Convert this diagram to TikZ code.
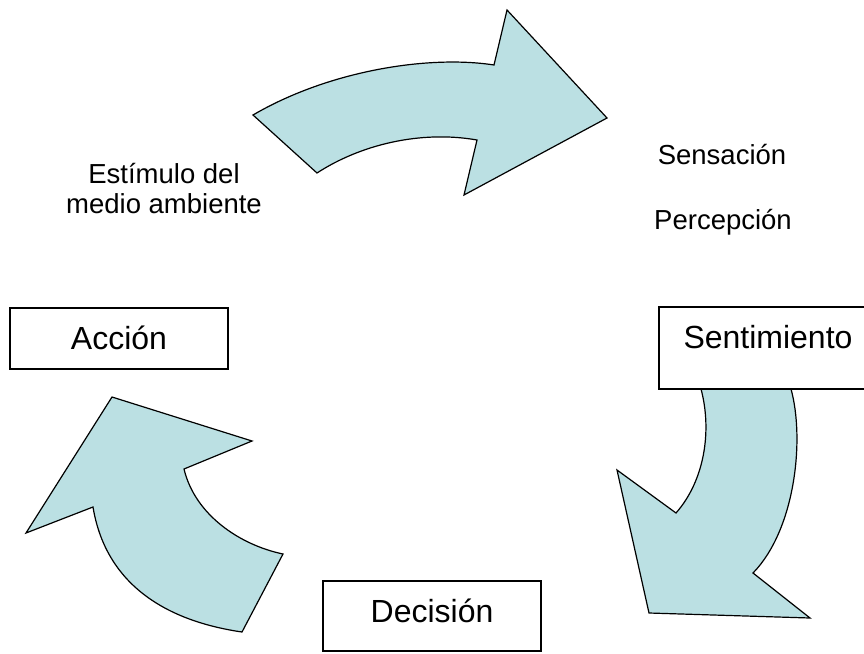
\documentclass[tikz,border=0pt]{standalone}
\usepackage{fontspec}
\setmainfont{Liberation Sans}
\definecolor{azul}{HTML}{BBE0E3}
\begin{document}
\begin{tikzpicture}[x=1pt,y=-1pt,
  flecha/.style={draw,line width=1.2pt,fill=azul,line join=miter},
  caja/.style={draw,fill=white,line width=1.3pt,inner sep=0pt,minimum width=218pt,text height=41pt,anchor=base,font=\fontsize{32}{36}\selectfont},
  rotulo/.style={align=center,anchor=base,font=\fontsize{27.5}{30}\selectfont}]
\useasboundingbox (0,0) rectangle (864,653);
% flechas
\draw[flecha](253,115)..controls(330,70)and(430,55)..(494,65)--(507,10)--(607,118)--(464,195)--(477,140)
  ..controls(420,130)and(360,145)..(317,173)--cycle;
\draw[flecha](701,389)..controls(712,430)and(705,480)..(676,513)--(617,470)--(649,613)--(810,618)--(753,573)
  ..controls(795,530)and(805,440)..(791,389)--cycle;
\draw[flecha](112,397)--(252,441)--(184,469)..controls(195,515)and(240,545)..(283,554)--(242,632)
  ..controls(160,620)and(105,580)..(93,507)--(26,533)--cycle;
% cajas
\node[caja,text depth=41pt](sent) at (768,348) {Sentimiento};
\node[caja,text depth=29pt](dec) at (432,622) {Decisión};
\node[caja,text depth=20pt](acc) at (119,349) {Acción};
% textos
\node[rotulo](est) at (164,213) {Estímulo del\\medio ambiente};
\node[rotulo](sens) at (722,164) {Sensación};
\node[rotulo](perc) at (723,229) {Percepción};
\end{tikzpicture}
\end{document}
